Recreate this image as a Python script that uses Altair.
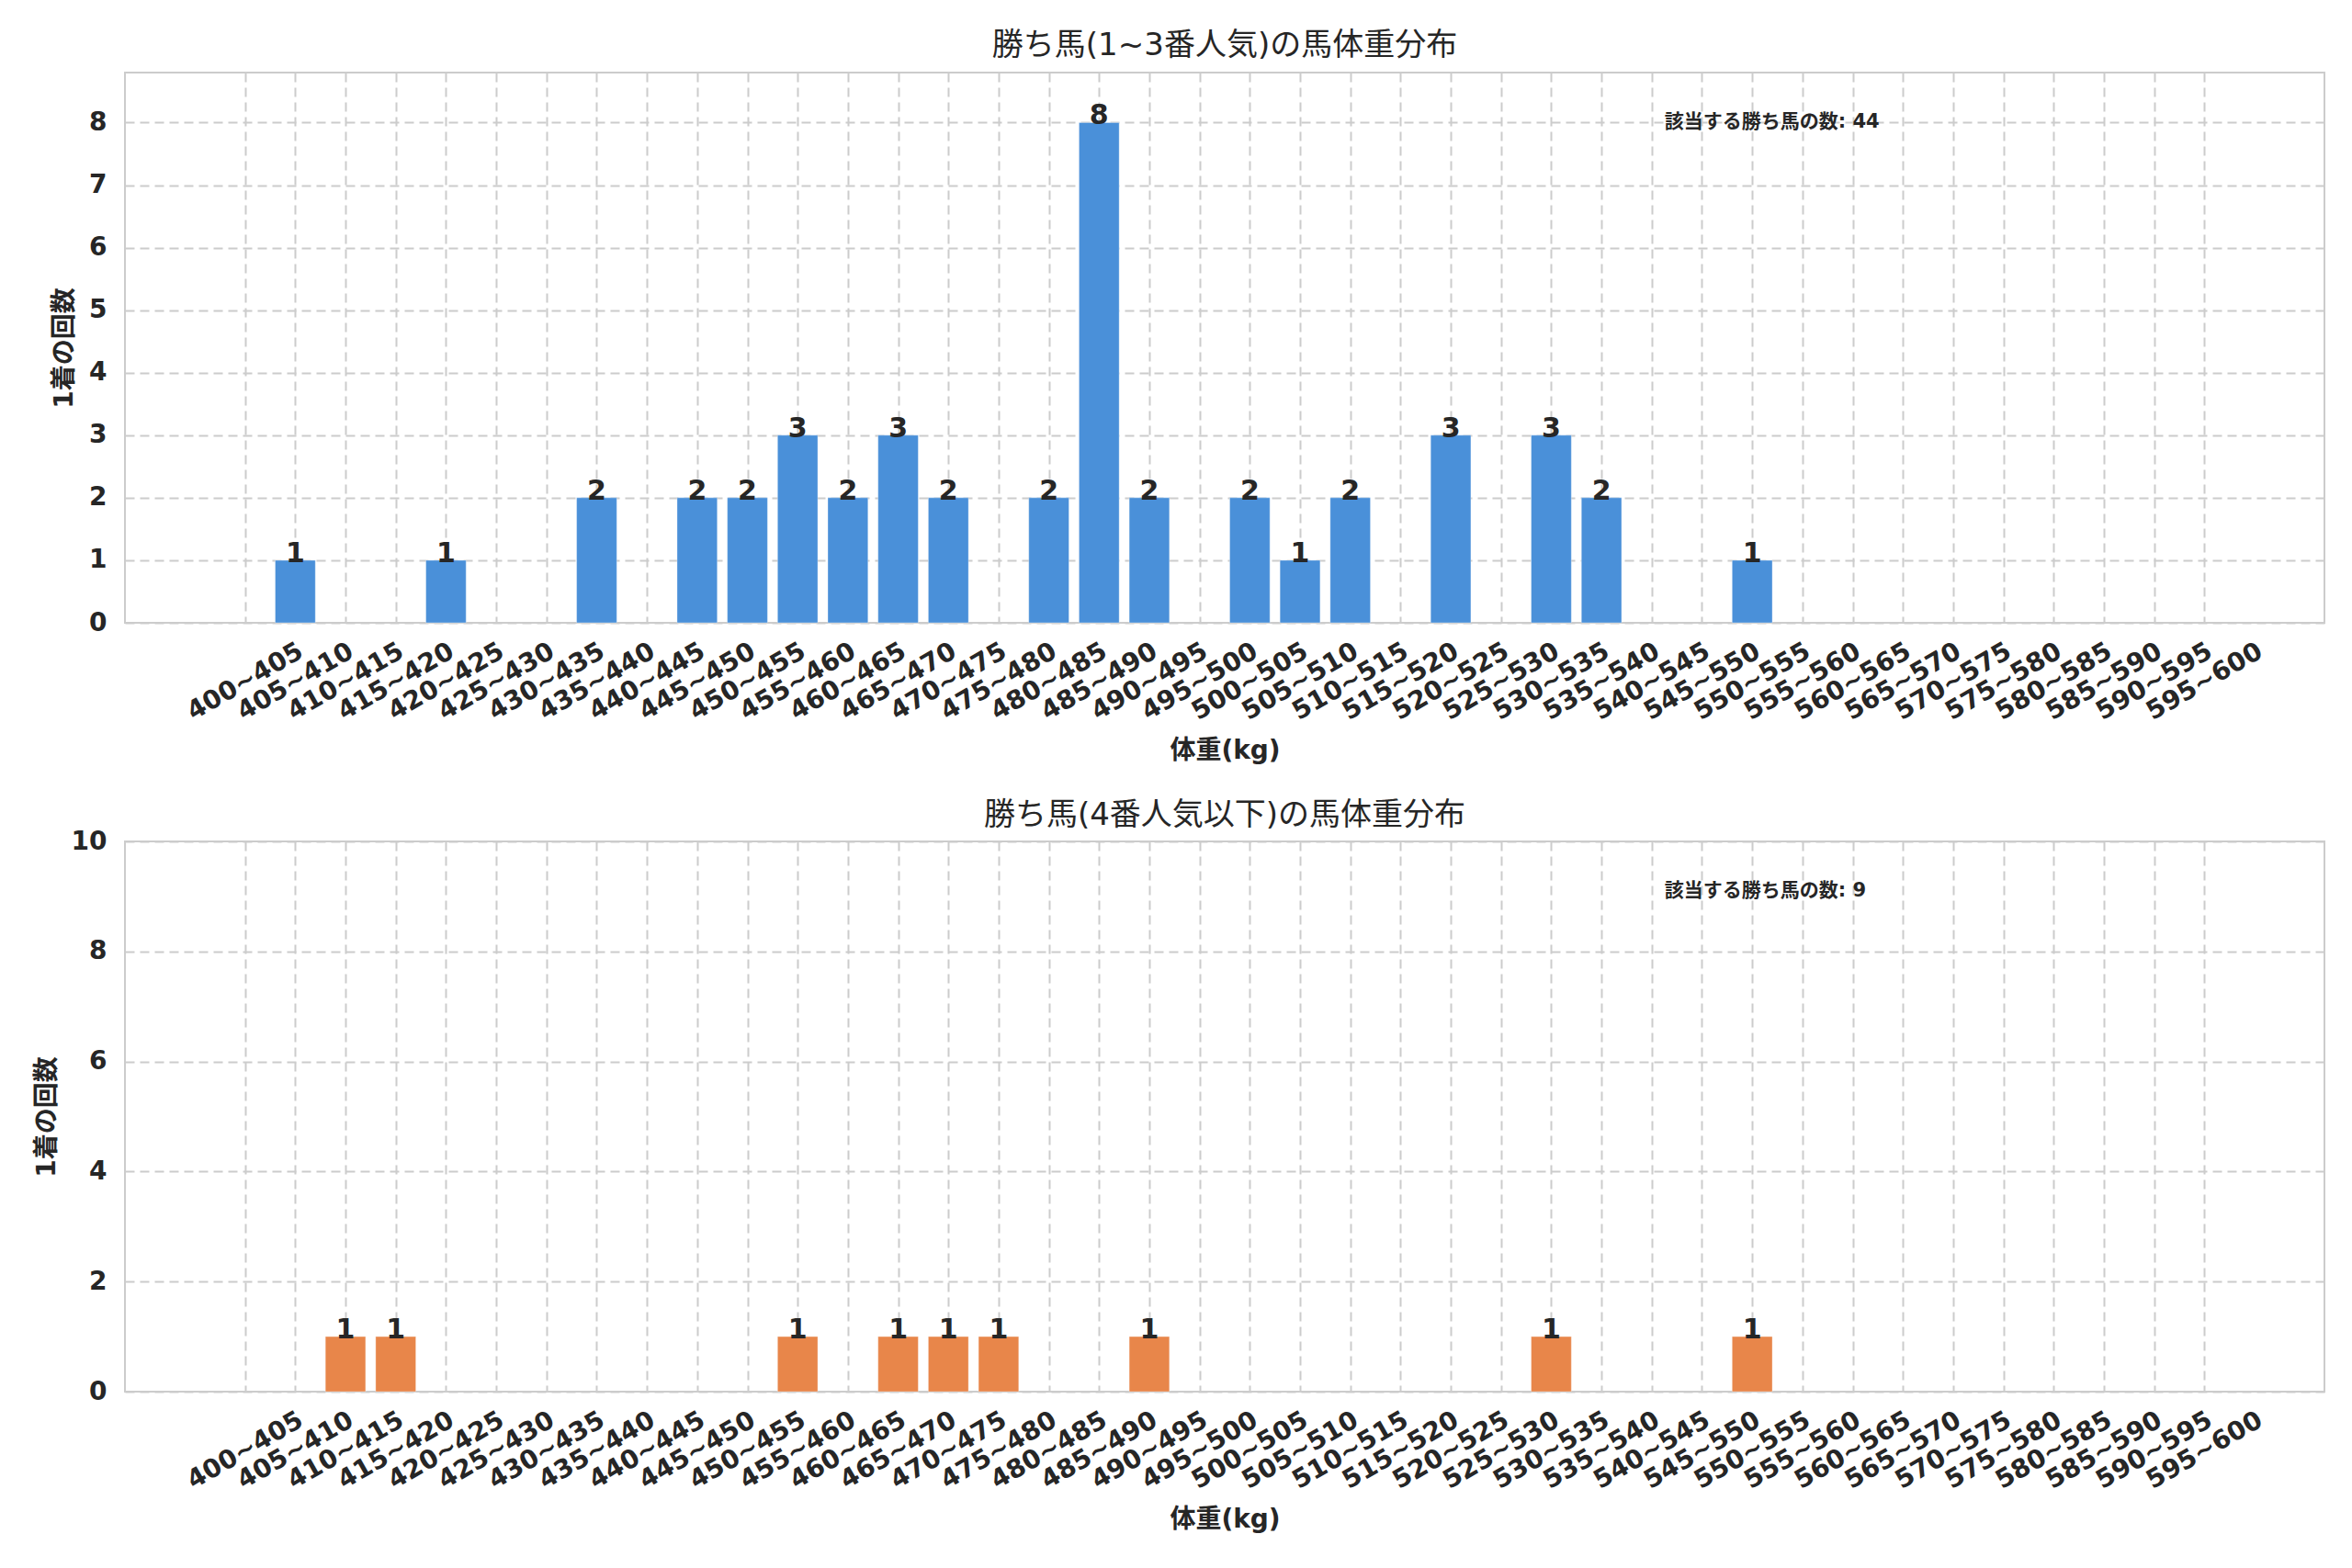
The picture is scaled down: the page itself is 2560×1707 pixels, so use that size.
import json
import altair as alt
import pandas as pd

bins = ["400~405", "405~410", "410~415", "415~420", "420~425", "425~430", "430~435", "435~440",
        "440~445", "445~450", "450~455", "455~460", "460~465", "465~470", "470~475", "475~480",
        "480~485", "485~490", "490~495", "495~500", "500~505", "505~510", "510~515", "515~520",
        "520~525", "525~530", "530~535", "535~540", "540~545", "545~550", "550~555", "555~560",
        "560~565", "565~570", "570~575", "575~580", "580~585", "585~590", "590~595", "595~600"]

top_counts = [0, 1, 0, 0, 1, 0, 0, 2, 0, 2, 2, 3, 2, 3, 2, 0, 2, 8, 2, 0,
              2, 1, 2, 0, 3, 0, 3, 2, 0, 0, 1, 0, 0, 0, 0, 0, 0, 0, 0, 0]
bottom_counts = [0, 0, 1, 1, 0, 0, 0, 0, 0, 0, 0, 1, 0, 1, 1, 1, 0, 0, 1, 0,
                 0, 0, 0, 0, 0, 0, 1, 0, 0, 0, 1, 0, 0, 0, 0, 0, 0, 0, 0, 0]

top_title = "勝ち馬(1~3番人気)の馬体重分布"
bottom_title = "勝ち馬(4番人気以下)の馬体重分布"
top_note = "該当する勝ち馬の数: 44"
bottom_note = "該当する勝ち馬の数: 9"
x_title = "体重(kg)"
y_title = "1着の回数"

FONT = "DejaVu Sans, Noto Sans CJK JP"
TEXT = "#262626"
W, H = 2394, 599

label_expr = json.dumps(bins) + "[datum.value]"


def panel(counts, color, title, note, ymax, yticks, title_offset):
    df = pd.DataFrame({"idx": list(range(len(bins))), "label": bins, "count": counts})
    xscale = alt.Scale(domain=[-2.39, 41.39], nice=False, zero=False)
    yscale = alt.Scale(domain=[0, ymax], nice=False)
    xaxis = alt.Axis(values=list(range(len(bins))), labelExpr=label_expr, title=x_title,
                     labelAngle=330, labelAlign="center", labelBaseline="middle",
                     labelPadding=64, titlePadding=14, labelOverlap=False, labelBound=False)
    yaxis = alt.Axis(values=yticks, format="d", title=y_title, labelPadding=20, titlePadding=12)
    base = alt.Chart(df).transform_filter("datum.count > 0")
    bars = base.transform_calculate(
        lo="datum.idx - 0.4", hi="datum.idx + 0.4", zero="0"
    ).mark_bar(color=color, stroke="#ffffff", strokeOpacity=0.35, strokeWidth=1).encode(
        x=alt.X("lo:Q", scale=xscale, axis=xaxis),
        x2="hi:Q",
        y=alt.Y("count:Q", scale=yscale, axis=yaxis),
        y2="zero:Q",
    )
    labels = base.mark_text(font=FONT, fontSize=30, fontWeight="bold", color=TEXT,
                            baseline="alphabetic", align="center", dy=2).encode(
        x=alt.X("idx:Q", scale=xscale, title=x_title),
        y=alt.Y("count:Q", scale=yscale, title=y_title),
        text="count:Q",
    )
    note_chart = alt.Chart(pd.DataFrame({"t": [note]})).mark_text(
        font=FONT, fontSize=21, fontWeight="bold", color=TEXT, align="left", baseline="middle"
    ).encode(x=alt.value(0.7 * W), y=alt.value(54), text="t:N")
    return alt.layer(bars, labels, note_chart).properties(
        width=W, height=H,
        title=alt.TitleParams(title, fontSize=34, fontWeight="normal", font=FONT, color=TEXT,
                              anchor="middle", frame="group", offset=title_offset),
    )


top = panel(top_counts, "#4A90D9", top_title, top_note, 8.8, [0, 1, 2, 3, 4, 5, 6, 7, 8], 12)
bottom = panel(bottom_counts, "#E8864A", bottom_title, bottom_note, 10, [0, 2, 4, 6, 8, 10], -3)

chart = alt.vconcat(top, bottom, spacing=37).properties(
    padding={"left": 28, "top": 24, "right": 5, "bottom": 5},
    background="white",
).configure_view(stroke="#cccccc", strokeWidth=2).configure_axis(
    labelFont=FONT, labelFontSize=28, labelFontWeight="bold", labelColor=TEXT,
    titleFont=FONT, titleFontSize=28, titleFontWeight="bold", titleColor=TEXT,
    gridColor="#cccccc", gridDash=[10, 6], gridWidth=2, gridOpacity=1,
    domain=False, ticks=False, tickSize=0,
)

chart.save("out.html", embed_options={"renderer": "svg", "actions": False})
